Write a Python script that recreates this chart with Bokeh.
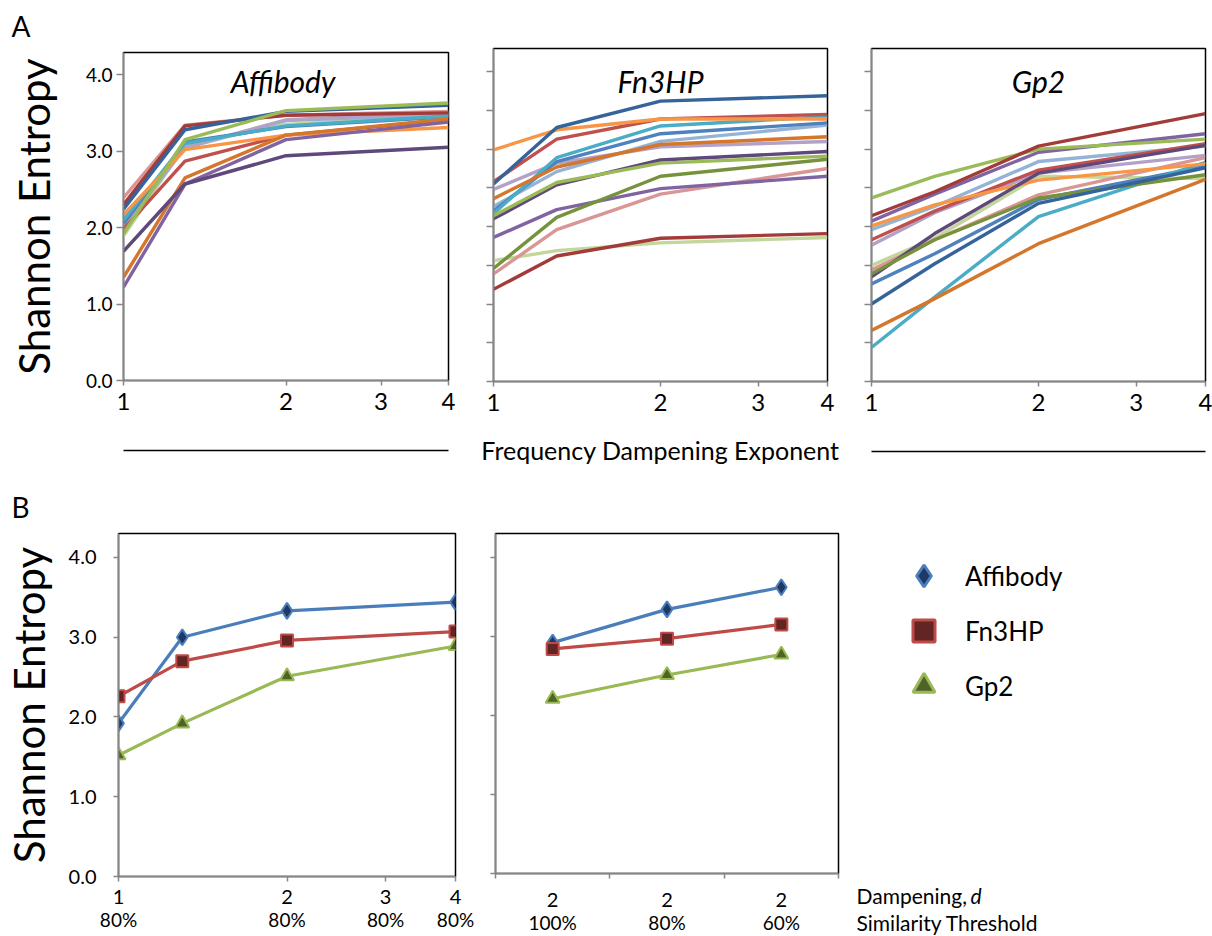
import math
from bokeh.plotting import figure
from bokeh.layouts import row, column
from bokeh.models import (Range1d, FixedTicker, LogAxis, LinearAxis, Label, Legend,
                          LegendItem, CustomJSTickFormatter, PrintfTickFormatter, Title)
from bokeh.embed import file_html
from bokeh.resources import INLINE

FONT = "Lato"
GREY = "#868686"

# ---------------- data ----------------
dampening = [1, 1.3, 2, 4]            # frequency dampening exponent d
dampening_ticks = [1, 2, 3, 4]
entropy_ticks = [0, 1, 2, 3, 4]
entropy_half_ticks = [0, 0.5, 1, 1.5, 2, 2.5, 3, 3.5, 4]

PAL = {
    "blue": "#4F81BD", "red": "#C0504D", "green": "#9BBB59", "purple": "#8064A2",
    "aqua": "#4BACC6", "orange": "#F79646", "dark_blue": "#35649A", "dark_red": "#A33B38",
    "dark_green": "#76923C", "dark_purple": "#5F497A", "dark_orange": "#D4762C",
    "light_blue": "#95B3D7", "pink": "#D99694", "light_green": "#C3D69B",
    "light_purple": "#B3A2C7",
}

affibody_series = ["pink", "light_green", "light_blue", "light_purple", "blue", "aqua", "red",
                   "orange", "dark_orange", "purple", "dark_purple", "dark_red", "dark_blue", "green"]
affibody_entropy = [
    [2.39, 3.34, 3.47, 3.52],
    [1.89, 3.08, 3.35, 3.47],
    [2.00, 3.04, 3.40, 3.48],
    [2.03, 3.05, 3.41, 3.50],
    [2.05, 3.12, 3.32, 3.45],
    [2.10, 3.10, 3.33, 3.46],
    [1.98, 2.87, 3.21, 3.41],
    [2.17, 3.02, 3.21, 3.31],
    [1.35, 2.65, 3.21, 3.42],
    [1.22, 2.57, 3.15, 3.38],
    [1.69, 2.57, 2.94, 3.05],
    [2.30, 3.33, 3.47, 3.50],
    [2.24, 3.28, 3.52, 3.60],
    [1.92, 3.15, 3.53, 3.63],
]

fn3hp_series = ["light_green", "pink", "light_purple", "light_blue", "blue", "aqua", "red",
                "orange", "dark_orange", "purple", "dark_purple", "dark_green", "green",
                "dark_red", "dark_blue"]
fn3hp_entropy = [
    [1.56, 1.69, 1.79, 1.86],
    [1.39, 1.96, 2.42, 2.75],
    [2.48, 2.82, 3.03, 3.10],
    [2.26, 2.71, 3.10, 3.31],
    [2.20, 2.84, 3.20, 3.34],
    [2.17, 2.89, 3.30, 3.42],
    [2.58, 3.13, 3.39, 3.45],
    [2.99, 3.25, 3.39, 3.39],
    [2.36, 2.77, 3.06, 3.16],
    [1.86, 2.22, 2.49, 2.65],
    [2.10, 2.54, 2.86, 2.97],
    [1.46, 2.12, 2.65, 2.87],
    [2.14, 2.57, 2.82, 2.91],
    [1.19, 1.62, 1.85, 1.91],
    [2.55, 3.28, 3.62, 3.69],
]

gp2_series = ["light_green", "pink", "light_purple", "light_blue", "blue", "aqua", "red",
              "orange", "dark_orange", "purple", "dark_purple", "dark_green", "green",
              "dark_red", "dark_blue"]
gp2_entropy = [
    [1.50, 1.85, 2.65, 2.62],
    [1.44, 1.83, 2.41, 2.89],
    [1.76, 2.18, 2.69, 2.92],
    [1.96, 2.26, 2.84, 3.04],
    [1.26, 1.65, 2.35, 2.78],
    [0.44, 1.09, 2.13, 2.83],
    [1.83, 2.20, 2.73, 3.07],
    [2.01, 2.28, 2.60, 2.81],
    [0.66, 1.07, 1.78, 2.61],
    [2.07, 2.42, 2.96, 3.20],
    [1.35, 1.91, 2.69, 3.05],
    [1.39, 1.83, 2.37, 2.67],
    [2.37, 2.65, 3.00, 3.13],
    [2.14, 2.45, 3.04, 3.46],
    [1.00, 1.52, 2.30, 2.76],
]

# panel B
proteins = ["Affibody", "Fn3HP", "Gp2"]
b_left_dampening = [1, 1.3, 2, 4]
b_left_tick_threshold = ["80%", "80%", "80%", "80%"]
b_left_affibody = [1.92, 3.00, 3.33, 3.44]
b_left_fn3hp = [2.26, 2.70, 2.96, 3.07]
b_left_gp2 = [1.52, 1.92, 2.51, 2.89]

b_right_threshold = ["100%", "80%", "60%"]
b_right_dampening = [2, 2, 2]
b_right_affibody = [2.92, 3.34, 3.62]
b_right_fn3hp = [2.84, 2.97, 3.15]
b_right_gp2 = [2.21, 2.51, 2.77]

protein_line = ["#4A7EBB", "#BE4B48", "#98B954"]
protein_fill = ["#1F3864", "#632523", "#4F6228"]
protein_marker = ["diamond", "square", "triangle"]
protein_size = [16, 12, 14]


def style_axis(ax, size="19px"):
    ax.axis_line_color = GREY
    ax.axis_line_width = 1.5
    ax.major_tick_line_color = GREY
    ax.major_tick_line_width = 1.5
    ax.minor_tick_line_color = None
    ax.major_tick_in = 0
    ax.major_label_text_font = FONT
    ax.major_label_text_font_size = size
    ax.major_label_text_color = "#000000"
    ax.axis_label_text_font = FONT
    ax.axis_label_text_font_style = "normal"
    ax.axis_label_text_color = "#000000"


def base_fig(width, height, bl, br, bt, bb, x_type, x_range, y_end):
    p = figure(width=width, height=height, x_axis_type=x_type, x_range=x_range,
               y_range=Range1d(0, y_end), output_backend="svg", toolbar_location=None,
               title=None, min_border_left=bl, min_border_right=br,
               min_border_top=bt, min_border_bottom=bb)
    p.frame_align = False
    p.xgrid.visible = False
    p.ygrid.visible = False
    p.outline_line_color = "#000000"
    p.outline_line_width = 1.5
    p.background_fill_color = "white"
    p.border_fill_color = "white"
    return p


def panel_letter(p, letter, offset, standoff, valign="bottom"):
    p.add_layout(Title(text=letter, align="left", offset=offset, standoff=standoff,
                       vertical_align=valign,
                       text_font=FONT, text_font_size="28px", text_font_style="normal",
                       text_color="#000000"), "above")


ROW_A_H = 472


def panel_a(title, series, values, width, bl, br, top, frame_bottom, y_end, first, last_line):
    p = base_fig(width, ROW_A_H, bl, br, top, ROW_A_H - frame_bottom, "log", Range1d(1, 4), y_end)
    for key, vals in zip(series, values):
        p.line(dampening, vals, line_color=PAL[key], line_width=3.4, line_join="round")
    xa = p.xaxis[0]
    style_axis(xa, "24px")
    xa.ticker = FixedTicker(ticks=dampening_ticks)
    xa.formatter = CustomJSTickFormatter(code="return String(tick)")
    xa.major_tick_out = 5
    xa.major_label_standoff = 7
    ya = p.yaxis[0]
    style_axis(ya, "19px")
    ya.major_tick_out = 7
    if first:
        ya.ticker = FixedTicker(ticks=entropy_ticks)
        ya.formatter = PrintfTickFormatter(format="%.1f")
        ya.major_label_standoff = 4
        ya.axis_label = "Shannon Entropy"
        ya.axis_label_text_font_size = "42px"
        ya.axis_label_standoff = 24
    else:
        ya.ticker = FixedTicker(ticks=entropy_half_ticks)
        ya.formatter = CustomJSTickFormatter(code="return ''")
    if last_line is None:
        xa.axis_label = "Frequency Dampening Exponent"
        xa.axis_label_text_font_size = "25px"
        xa.axis_label_standoff = 21
    else:
        xa.axis_label = " "
        xa.axis_label_text_font_size = "20px"
        xa.axis_label_standoff = 11
        la = LogAxis(ticker=FixedTicker(ticks=[]), axis_line_color="#000000",
                     axis_line_width=1.6, major_tick_line_color=None,
                     major_label_text_font_size="1px")
        p.add_layout(la, "below")
    fh = frame_bottom - top
    p.add_layout(Label(x=(width - bl - br) / 2 + (-3 if first else 0), y=fh - (80 - top),
                       x_units="screen", y_units="screen", text=title, text_align="center",
                       text_baseline="alphabetic", text_font=FONT, text_font_size="30px",
                       text_font_style="italic", text_color="#000000"))
    return p


a1 = panel_a("Affibody", affibody_series, affibody_entropy, 470, 123, 22, 51, 380, 4.29, True, "line")
a2 = panel_a("Fn3HP", fn3hp_series, fn3hp_entropy, 380, 23, 23, 48, 381, 4.3, False, None)
a3 = panel_a("Gp2", gp2_series, gp2_entropy, 362, 21, 7, 48, 381, 4.3, False, "line")
panel_letter(a1, "A", -112, 16, "top")

# ---------------- panel B ----------------
ROW_B_H = 936 - ROW_A_H
B_TOP = 533 - ROW_A_H
B_BOTTOM = 936 - 876
b1 = base_fig(475, ROW_B_H, 118, 20, B_TOP, B_BOTTOM, "log", Range1d(1, 4), 4.3)
b_left_vals = [b_left_affibody, b_left_fn3hp, b_left_gp2]
for i, vals in enumerate(b_left_vals):
    b1.line(b_left_dampening, vals, line_color=protein_line[i], line_width=3.2)
    b1.scatter(b_left_dampening, vals, marker=protein_marker[i], size=protein_size[i],
               fill_color=protein_fill[i], line_color=protein_line[i], line_width=2)
xa = b1.xaxis[0]
style_axis(xa, "20px")
xa.ticker = FixedTicker(ticks=dampening_ticks)
xa.formatter = CustomJSTickFormatter(code="return String(tick)")
xa.major_tick_out = 5
xa.major_label_standoff = 8
xb = LogAxis(ticker=FixedTicker(ticks=dampening_ticks),
             formatter=CustomJSTickFormatter(args=dict(labels=b_left_tick_threshold),
                                             code="return labels[index]"))
style_axis(xb, "19px")
xb.axis_line_color = None
xb.major_tick_line_color = None
xb.major_tick_out = 0
xb.major_label_standoff = 1
b1.add_layout(xb, "below")
ya = b1.yaxis[0]
style_axis(ya, "20px")
ya.ticker = FixedTicker(ticks=entropy_ticks)
ya.formatter = PrintfTickFormatter(format="%.1f")
ya.major_tick_out = 5
ya.major_label_standoff = 17
ya.axis_label = "Shannon Entropy"
ya.axis_label_text_font_size = "42px"
ya.axis_label_standoff = 12
panel_letter(b1, "B", -107, 20)

cat_pos = list(range(len(b_right_threshold)))
cat_bounds = [i - 0.5 for i in range(len(b_right_threshold) + 1)]
b2 = base_fig(368, ROW_B_H, 20, 5, B_TOP, B_BOTTOM, "linear",
              Range1d(cat_bounds[0], cat_bounds[-1]), 4.3)
b_right_vals = [b_right_affibody, b_right_fn3hp, b_right_gp2]
for i, vals in enumerate(b_right_vals):
    b2.line(cat_pos, vals, line_color=protein_line[i], line_width=3.2)
    b2.scatter(cat_pos, vals, marker=protein_marker[i], size=protein_size[i],
               fill_color=protein_fill[i], line_color=protein_line[i], line_width=2)
xa = b2.xaxis[0]
style_axis(xa, "20px")
xa.ticker = FixedTicker(ticks=cat_pos, minor_ticks=cat_bounds)
xa.formatter = CustomJSTickFormatter(args=dict(labels=[str(d) for d in b_right_dampening]),
                                     code="return labels[index]")
xa.major_tick_out = 0
xa.major_tick_line_color = None
xa.minor_tick_line_color = GREY
xa.minor_tick_line_width = 1.5
xa.minor_tick_out = 5
xa.minor_tick_in = 0
xa.major_label_standoff = 14
xb = LinearAxis(ticker=FixedTicker(ticks=cat_pos),
                formatter=CustomJSTickFormatter(args=dict(labels=b_right_threshold),
                                                code="return labels[index]"))
style_axis(xb, "19px")
xb.axis_line_color = None
xb.major_tick_line_color = None
xb.major_tick_out = 0
xb.major_label_standoff = 1
b2.add_layout(xb, "below")
ya = b2.yaxis[0]
style_axis(ya, "19px")
ya.ticker = FixedTicker(ticks=entropy_ticks)
ya.formatter = CustomJSTickFormatter(code="return ''")
ya.major_tick_out = 5

# legend and axis captions live in a bare side figure
b3 = figure(width=1212 - 475 - 368, height=ROW_B_H, x_range=Range1d(0, 1),
            y_range=Range1d(0, 4.3), output_backend="svg", toolbar_location=None,
            title=None, x_axis_location=None, y_axis_location=None,
            min_border_left=0, min_border_right=0, min_border_top=0, min_border_bottom=0)
b3.frame_align = False
b3.xgrid.visible = False
b3.ygrid.visible = False
b3.outline_line_color = None
b3.border_fill_color = "white"
legend_items = []
for i, vals in enumerate(b_right_vals):
    r = b3.scatter(cat_pos, vals, marker=protein_marker[i], size=protein_size[i],
                   fill_color=protein_fill[i], line_color=protein_line[i], line_width=3,
                   visible=False)
    legend_items.append(LegendItem(label=proteins[i], renderers=[r]))
legend = Legend(items=legend_items, location=(53, 223), orientation="vertical",
                glyph_width=55, glyph_height=55, spacing=0, padding=0, margin=0,
                label_standoff=14, label_text_font=FONT, label_text_font_size="26px",
                label_text_color="#000000", border_line_color=None,
                background_fill_alpha=0, inactive_fill_alpha=0, click_policy="none")
b3.add_layout(legend)
b3.add_layout(Label(x=13, y=29, x_units="screen", y_units="screen", text="Dampening, ",
                    text_font=FONT, text_font_size="21px", text_color="#000000"))
b3.add_layout(Label(x=127, y=29, x_units="screen", y_units="screen", text="d",
                    text_font=FONT, text_font_size="21px", text_font_style="italic",
                    text_color="#000000"))
b3.add_layout(Label(x=13, y=2, x_units="screen", y_units="screen",
                    text="Similarity Threshold", text_font=FONT, text_font_size="21px",
                    text_color="#000000"))

layout = column(row(a1, a2, a3, spacing=0), row(b1, b2, b3, spacing=0), spacing=0)
open("out.html", "w").write(file_html(layout, INLINE))
